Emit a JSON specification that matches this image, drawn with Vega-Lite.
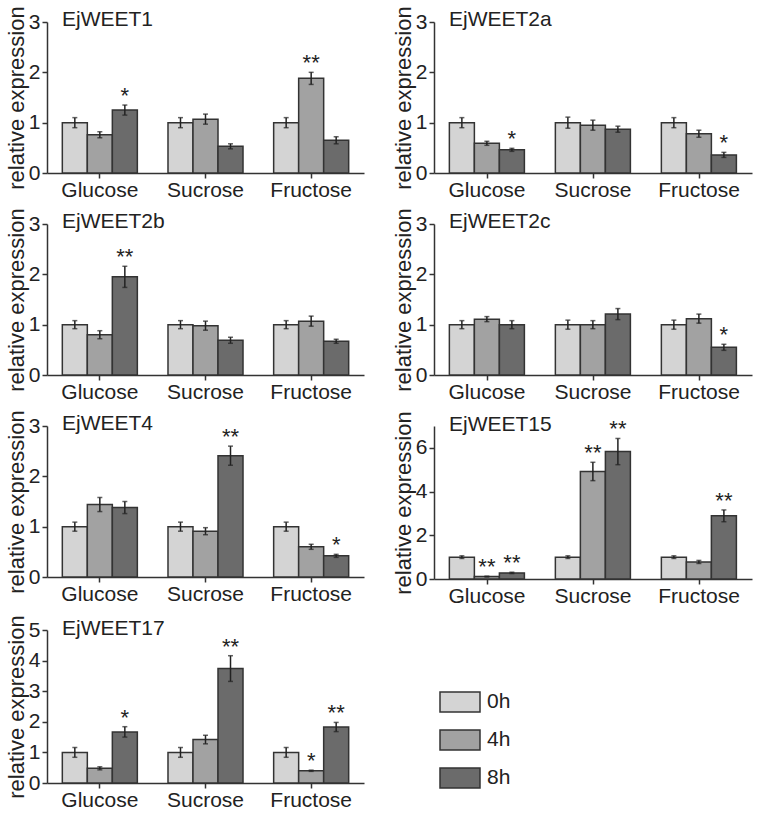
{
  "$schema": "https://vega.github.io/schema/vega-lite/v6.json",
  "background": "#ffffff",
  "padding": {"left": 5, "top": 5, "right": 5, "bottom": 5},
  "data": {
    "values": [
      {"gene": "EjWEET1", "sugar": "Glucose", "time": "0h", "value": 1.0, "lo": 0.9, "hi": 1.1, "sig": ""},
      {"gene": "EjWEET1", "sugar": "Glucose", "time": "4h", "value": 0.76, "lo": 0.7, "hi": 0.82, "sig": ""},
      {"gene": "EjWEET1", "sugar": "Glucose", "time": "8h", "value": 1.25, "lo": 1.15, "hi": 1.35, "sig": "*"},
      {"gene": "EjWEET1", "sugar": "Sucrose", "time": "0h", "value": 1.0, "lo": 0.9, "hi": 1.1, "sig": ""},
      {"gene": "EjWEET1", "sugar": "Sucrose", "time": "4h", "value": 1.07, "lo": 0.97, "hi": 1.17, "sig": ""},
      {"gene": "EjWEET1", "sugar": "Sucrose", "time": "8h", "value": 0.53, "lo": 0.48, "hi": 0.58, "sig": ""},
      {"gene": "EjWEET1", "sugar": "Fructose", "time": "0h", "value": 1.0, "lo": 0.9, "hi": 1.1, "sig": ""},
      {"gene": "EjWEET1", "sugar": "Fructose", "time": "4h", "value": 1.88, "lo": 1.76, "hi": 2.0, "sig": "**"},
      {"gene": "EjWEET1", "sugar": "Fructose", "time": "8h", "value": 0.65, "lo": 0.58, "hi": 0.72, "sig": ""},

      {"gene": "EjWEET2a", "sugar": "Glucose", "time": "0h", "value": 1.0, "lo": 0.9, "hi": 1.1, "sig": ""},
      {"gene": "EjWEET2a", "sugar": "Glucose", "time": "4h", "value": 0.59, "lo": 0.55, "hi": 0.63, "sig": ""},
      {"gene": "EjWEET2a", "sugar": "Glucose", "time": "8h", "value": 0.46, "lo": 0.43, "hi": 0.49, "sig": "*"},
      {"gene": "EjWEET2a", "sugar": "Sucrose", "time": "0h", "value": 1.0, "lo": 0.89, "hi": 1.11, "sig": ""},
      {"gene": "EjWEET2a", "sugar": "Sucrose", "time": "4h", "value": 0.95, "lo": 0.85, "hi": 1.05, "sig": ""},
      {"gene": "EjWEET2a", "sugar": "Sucrose", "time": "8h", "value": 0.87, "lo": 0.81, "hi": 0.93, "sig": ""},
      {"gene": "EjWEET2a", "sugar": "Fructose", "time": "0h", "value": 1.0, "lo": 0.9, "hi": 1.1, "sig": ""},
      {"gene": "EjWEET2a", "sugar": "Fructose", "time": "4h", "value": 0.78, "lo": 0.71, "hi": 0.85, "sig": ""},
      {"gene": "EjWEET2a", "sugar": "Fructose", "time": "8h", "value": 0.36, "lo": 0.31, "hi": 0.41, "sig": "*"},

      {"gene": "EjWEET2b", "sugar": "Glucose", "time": "0h", "value": 1.0, "lo": 0.92, "hi": 1.08, "sig": ""},
      {"gene": "EjWEET2b", "sugar": "Glucose", "time": "4h", "value": 0.8, "lo": 0.72, "hi": 0.88, "sig": ""},
      {"gene": "EjWEET2b", "sugar": "Glucose", "time": "8h", "value": 1.95, "lo": 1.74, "hi": 2.16, "sig": "**"},
      {"gene": "EjWEET2b", "sugar": "Sucrose", "time": "0h", "value": 1.0, "lo": 0.92, "hi": 1.08, "sig": ""},
      {"gene": "EjWEET2b", "sugar": "Sucrose", "time": "4h", "value": 0.98, "lo": 0.89, "hi": 1.07, "sig": ""},
      {"gene": "EjWEET2b", "sugar": "Sucrose", "time": "8h", "value": 0.69, "lo": 0.63, "hi": 0.75, "sig": ""},
      {"gene": "EjWEET2b", "sugar": "Fructose", "time": "0h", "value": 1.0, "lo": 0.92, "hi": 1.08, "sig": ""},
      {"gene": "EjWEET2b", "sugar": "Fructose", "time": "4h", "value": 1.07, "lo": 0.97, "hi": 1.17, "sig": ""},
      {"gene": "EjWEET2b", "sugar": "Fructose", "time": "8h", "value": 0.67, "lo": 0.63, "hi": 0.71, "sig": ""},

      {"gene": "EjWEET2c", "sugar": "Glucose", "time": "0h", "value": 1.0, "lo": 0.92, "hi": 1.08, "sig": ""},
      {"gene": "EjWEET2c", "sugar": "Glucose", "time": "4h", "value": 1.11, "lo": 1.06, "hi": 1.16, "sig": ""},
      {"gene": "EjWEET2c", "sugar": "Glucose", "time": "8h", "value": 1.0, "lo": 0.92, "hi": 1.08, "sig": ""},
      {"gene": "EjWEET2c", "sugar": "Sucrose", "time": "0h", "value": 1.0, "lo": 0.91, "hi": 1.09, "sig": ""},
      {"gene": "EjWEET2c", "sugar": "Sucrose", "time": "4h", "value": 1.0, "lo": 0.92, "hi": 1.08, "sig": ""},
      {"gene": "EjWEET2c", "sugar": "Sucrose", "time": "8h", "value": 1.21, "lo": 1.1, "hi": 1.32, "sig": ""},
      {"gene": "EjWEET2c", "sugar": "Fructose", "time": "0h", "value": 1.0, "lo": 0.91, "hi": 1.09, "sig": ""},
      {"gene": "EjWEET2c", "sugar": "Fructose", "time": "4h", "value": 1.12, "lo": 1.03, "hi": 1.21, "sig": ""},
      {"gene": "EjWEET2c", "sugar": "Fructose", "time": "8h", "value": 0.55, "lo": 0.49, "hi": 0.61, "sig": "*"},

      {"gene": "EjWEET4", "sugar": "Glucose", "time": "0h", "value": 1.0, "lo": 0.91, "hi": 1.09, "sig": ""},
      {"gene": "EjWEET4", "sugar": "Glucose", "time": "4h", "value": 1.44, "lo": 1.3, "hi": 1.58, "sig": ""},
      {"gene": "EjWEET4", "sugar": "Glucose", "time": "8h", "value": 1.38, "lo": 1.26, "hi": 1.5, "sig": ""},
      {"gene": "EjWEET4", "sugar": "Sucrose", "time": "0h", "value": 1.0, "lo": 0.91, "hi": 1.09, "sig": ""},
      {"gene": "EjWEET4", "sugar": "Sucrose", "time": "4h", "value": 0.91, "lo": 0.84, "hi": 0.98, "sig": ""},
      {"gene": "EjWEET4", "sugar": "Sucrose", "time": "8h", "value": 2.41, "lo": 2.22, "hi": 2.6, "sig": "**"},
      {"gene": "EjWEET4", "sugar": "Fructose", "time": "0h", "value": 1.0, "lo": 0.91, "hi": 1.09, "sig": ""},
      {"gene": "EjWEET4", "sugar": "Fructose", "time": "4h", "value": 0.6, "lo": 0.55, "hi": 0.65, "sig": ""},
      {"gene": "EjWEET4", "sugar": "Fructose", "time": "8h", "value": 0.42, "lo": 0.39, "hi": 0.45, "sig": "*"},

      {"gene": "EjWEET15", "sugar": "Glucose", "time": "0h", "value": 1.0, "lo": 0.94, "hi": 1.06, "sig": ""},
      {"gene": "EjWEET15", "sugar": "Glucose", "time": "4h", "value": 0.11, "lo": 0.09, "hi": 0.13, "sig": "**"},
      {"gene": "EjWEET15", "sugar": "Glucose", "time": "8h", "value": 0.28, "lo": 0.25, "hi": 0.31, "sig": "**"},
      {"gene": "EjWEET15", "sugar": "Sucrose", "time": "0h", "value": 1.0, "lo": 0.94, "hi": 1.06, "sig": ""},
      {"gene": "EjWEET15", "sugar": "Sucrose", "time": "4h", "value": 4.92, "lo": 4.5, "hi": 5.34, "sig": "**"},
      {"gene": "EjWEET15", "sugar": "Sucrose", "time": "8h", "value": 5.83, "lo": 5.23, "hi": 6.43, "sig": "**"},
      {"gene": "EjWEET15", "sugar": "Fructose", "time": "0h", "value": 1.0, "lo": 0.94, "hi": 1.06, "sig": ""},
      {"gene": "EjWEET15", "sugar": "Fructose", "time": "4h", "value": 0.78, "lo": 0.71, "hi": 0.85, "sig": ""},
      {"gene": "EjWEET15", "sugar": "Fructose", "time": "8h", "value": 2.89, "lo": 2.62, "hi": 3.16, "sig": "**"},

      {"gene": "EjWEET17", "sugar": "Glucose", "time": "0h", "value": 1.0, "lo": 0.84, "hi": 1.16, "sig": ""},
      {"gene": "EjWEET17", "sugar": "Glucose", "time": "4h", "value": 0.48, "lo": 0.43, "hi": 0.53, "sig": ""},
      {"gene": "EjWEET17", "sugar": "Glucose", "time": "8h", "value": 1.67, "lo": 1.5, "hi": 1.84, "sig": "*"},
      {"gene": "EjWEET17", "sugar": "Sucrose", "time": "0h", "value": 1.0, "lo": 0.84, "hi": 1.16, "sig": ""},
      {"gene": "EjWEET17", "sugar": "Sucrose", "time": "4h", "value": 1.42, "lo": 1.28, "hi": 1.56, "sig": ""},
      {"gene": "EjWEET17", "sugar": "Sucrose", "time": "8h", "value": 3.74, "lo": 3.32, "hi": 4.16, "sig": "**"},
      {"gene": "EjWEET17", "sugar": "Fructose", "time": "0h", "value": 1.0, "lo": 0.84, "hi": 1.16, "sig": ""},
      {"gene": "EjWEET17", "sugar": "Fructose", "time": "4h", "value": 0.4, "lo": 0.38, "hi": 0.42, "sig": "*"},
      {"gene": "EjWEET17", "sugar": "Fructose", "time": "8h", "value": 1.83, "lo": 1.68, "hi": 1.98, "sig": "**"}
    ]
  },
  "columns": 2,
  "spacing": {"row": 51, "column": 70},
  "bounds": "flush",
  "concat": [
    {
      "title": "EjWEET1",
      "width": 317, "height": 151,
      "transform": [{"filter": "datum.gene === 'EjWEET1'"}],
      "encoding": {
        "x": {"field": "sugar", "type": "nominal", "sort": ["Glucose", "Sucrose", "Fructose"], "title": null, "scale": {"paddingInner": 0.29, "paddingOuter": 0.145}},
        "xOffset": {"field": "time", "type": "nominal", "sort": ["0h", "4h", "8h"], "scale": {"paddingInner": 0, "paddingOuter": 0}}
      },
      "layer": [
        {"mark": {"type": "bar", "stroke": "#333333", "strokeWidth": 1.5}, "encoding": {"y": {"field": "value", "type": "quantitative", "scale": {"domain": [0, 3]}, "axis": {"values": [0, 1, 2, 3], "title": "relative expression"}}, "color": {"field": "time", "type": "nominal", "sort": ["0h", "4h", "8h"]}}},
        {"mark": {"type": "rule", "color": "#222222", "strokeWidth": 1.5}, "encoding": {"y": {"field": "lo", "type": "quantitative", "axis": {"values": [0, 1, 2, 3]}}, "y2": {"field": "hi"}}},
        {"mark": {"type": "tick", "color": "#222222", "size": 5, "thickness": 1.5}, "encoding": {"y": {"field": "lo", "type": "quantitative", "axis": {"values": [0, 1, 2, 3]}}}},
        {"mark": {"type": "tick", "color": "#222222", "size": 5, "thickness": 1.5}, "encoding": {"y": {"field": "hi", "type": "quantitative", "axis": {"values": [0, 1, 2, 3]}}}},
        {"mark": {"type": "text", "fontSize": 22, "baseline": "alphabetic", "dy": -2, "color": "#222222"}, "encoding": {"y": {"field": "hi", "type": "quantitative", "axis": {"values": [0, 1, 2, 3]}}, "text": {"field": "sig"}}}
      ]
    },
    {
      "title": "EjWEET2a",
      "width": 318, "height": 151,
      "transform": [{"filter": "datum.gene === 'EjWEET2a'"}],
      "encoding": {
        "x": {"field": "sugar", "type": "nominal", "sort": ["Glucose", "Sucrose", "Fructose"], "title": null, "scale": {"paddingInner": 0.29, "paddingOuter": 0.145}},
        "xOffset": {"field": "time", "type": "nominal", "sort": ["0h", "4h", "8h"], "scale": {"paddingInner": 0, "paddingOuter": 0}}
      },
      "layer": [
        {"mark": {"type": "bar", "stroke": "#333333", "strokeWidth": 1.5}, "encoding": {"y": {"field": "value", "type": "quantitative", "scale": {"domain": [0, 3]}, "axis": {"values": [0, 1, 2, 3], "title": "relative expression"}}, "color": {"field": "time", "type": "nominal", "sort": ["0h", "4h", "8h"]}}},
        {"mark": {"type": "rule", "color": "#222222", "strokeWidth": 1.5}, "encoding": {"y": {"field": "lo", "type": "quantitative", "axis": {"values": [0, 1, 2, 3]}}, "y2": {"field": "hi"}}},
        {"mark": {"type": "tick", "color": "#222222", "size": 5, "thickness": 1.5}, "encoding": {"y": {"field": "lo", "type": "quantitative", "axis": {"values": [0, 1, 2, 3]}}}},
        {"mark": {"type": "tick", "color": "#222222", "size": 5, "thickness": 1.5}, "encoding": {"y": {"field": "hi", "type": "quantitative", "axis": {"values": [0, 1, 2, 3]}}}},
        {"mark": {"type": "text", "fontSize": 22, "baseline": "alphabetic", "dy": -2, "color": "#222222"}, "encoding": {"y": {"field": "hi", "type": "quantitative", "axis": {"values": [0, 1, 2, 3]}}, "text": {"field": "sig"}}}
      ]
    },
    {
      "title": "EjWEET2b",
      "width": 317, "height": 151,
      "transform": [{"filter": "datum.gene === 'EjWEET2b'"}],
      "encoding": {
        "x": {"field": "sugar", "type": "nominal", "sort": ["Glucose", "Sucrose", "Fructose"], "title": null, "scale": {"paddingInner": 0.29, "paddingOuter": 0.145}},
        "xOffset": {"field": "time", "type": "nominal", "sort": ["0h", "4h", "8h"], "scale": {"paddingInner": 0, "paddingOuter": 0}}
      },
      "layer": [
        {"mark": {"type": "bar", "stroke": "#333333", "strokeWidth": 1.5}, "encoding": {"y": {"field": "value", "type": "quantitative", "scale": {"domain": [0, 3]}, "axis": {"values": [0, 1, 2, 3], "title": "relative expression"}}, "color": {"field": "time", "type": "nominal", "sort": ["0h", "4h", "8h"]}}},
        {"mark": {"type": "rule", "color": "#222222", "strokeWidth": 1.5}, "encoding": {"y": {"field": "lo", "type": "quantitative", "axis": {"values": [0, 1, 2, 3]}}, "y2": {"field": "hi"}}},
        {"mark": {"type": "tick", "color": "#222222", "size": 5, "thickness": 1.5}, "encoding": {"y": {"field": "lo", "type": "quantitative", "axis": {"values": [0, 1, 2, 3]}}}},
        {"mark": {"type": "tick", "color": "#222222", "size": 5, "thickness": 1.5}, "encoding": {"y": {"field": "hi", "type": "quantitative", "axis": {"values": [0, 1, 2, 3]}}}},
        {"mark": {"type": "text", "fontSize": 22, "baseline": "alphabetic", "dy": -2, "color": "#222222"}, "encoding": {"y": {"field": "hi", "type": "quantitative", "axis": {"values": [0, 1, 2, 3]}}, "text": {"field": "sig"}}}
      ]
    },
    {
      "title": "EjWEET2c",
      "width": 318, "height": 151,
      "transform": [{"filter": "datum.gene === 'EjWEET2c'"}],
      "encoding": {
        "x": {"field": "sugar", "type": "nominal", "sort": ["Glucose", "Sucrose", "Fructose"], "title": null, "scale": {"paddingInner": 0.29, "paddingOuter": 0.145}},
        "xOffset": {"field": "time", "type": "nominal", "sort": ["0h", "4h", "8h"], "scale": {"paddingInner": 0, "paddingOuter": 0}}
      },
      "layer": [
        {"mark": {"type": "bar", "stroke": "#333333", "strokeWidth": 1.5}, "encoding": {"y": {"field": "value", "type": "quantitative", "scale": {"domain": [0, 3]}, "axis": {"values": [0, 1, 2, 3], "title": "relative expression"}}, "color": {"field": "time", "type": "nominal", "sort": ["0h", "4h", "8h"]}}},
        {"mark": {"type": "rule", "color": "#222222", "strokeWidth": 1.5}, "encoding": {"y": {"field": "lo", "type": "quantitative", "axis": {"values": [0, 1, 2, 3]}}, "y2": {"field": "hi"}}},
        {"mark": {"type": "tick", "color": "#222222", "size": 5, "thickness": 1.5}, "encoding": {"y": {"field": "lo", "type": "quantitative", "axis": {"values": [0, 1, 2, 3]}}}},
        {"mark": {"type": "tick", "color": "#222222", "size": 5, "thickness": 1.5}, "encoding": {"y": {"field": "hi", "type": "quantitative", "axis": {"values": [0, 1, 2, 3]}}}},
        {"mark": {"type": "text", "fontSize": 22, "baseline": "alphabetic", "dy": -2, "color": "#222222"}, "encoding": {"y": {"field": "hi", "type": "quantitative", "axis": {"values": [0, 1, 2, 3]}}, "text": {"field": "sig"}}}
      ]
    },
    {
      "title": "EjWEET4",
      "width": 317, "height": 151,
      "transform": [{"filter": "datum.gene === 'EjWEET4'"}],
      "encoding": {
        "x": {"field": "sugar", "type": "nominal", "sort": ["Glucose", "Sucrose", "Fructose"], "title": null, "scale": {"paddingInner": 0.29, "paddingOuter": 0.145}},
        "xOffset": {"field": "time", "type": "nominal", "sort": ["0h", "4h", "8h"], "scale": {"paddingInner": 0, "paddingOuter": 0}}
      },
      "layer": [
        {"mark": {"type": "bar", "stroke": "#333333", "strokeWidth": 1.5}, "encoding": {"y": {"field": "value", "type": "quantitative", "scale": {"domain": [0, 3]}, "axis": {"values": [0, 1, 2, 3], "title": "relative expression"}}, "color": {"field": "time", "type": "nominal", "sort": ["0h", "4h", "8h"]}}},
        {"mark": {"type": "rule", "color": "#222222", "strokeWidth": 1.5}, "encoding": {"y": {"field": "lo", "type": "quantitative", "axis": {"values": [0, 1, 2, 3]}}, "y2": {"field": "hi"}}},
        {"mark": {"type": "tick", "color": "#222222", "size": 5, "thickness": 1.5}, "encoding": {"y": {"field": "lo", "type": "quantitative", "axis": {"values": [0, 1, 2, 3]}}}},
        {"mark": {"type": "tick", "color": "#222222", "size": 5, "thickness": 1.5}, "encoding": {"y": {"field": "hi", "type": "quantitative", "axis": {"values": [0, 1, 2, 3]}}}},
        {"mark": {"type": "text", "fontSize": 22, "baseline": "alphabetic", "dy": -2, "color": "#222222"}, "encoding": {"y": {"field": "hi", "type": "quantitative", "axis": {"values": [0, 1, 2, 3]}}, "text": {"field": "sig"}}}
      ]
    },
    {
      "title": "EjWEET15",
      "width": 318, "height": 153,
      "transform": [{"filter": "datum.gene === 'EjWEET15'"}],
      "encoding": {
        "x": {"field": "sugar", "type": "nominal", "sort": ["Glucose", "Sucrose", "Fructose"], "title": null, "scale": {"paddingInner": 0.29, "paddingOuter": 0.145}},
        "xOffset": {"field": "time", "type": "nominal", "sort": ["0h", "4h", "8h"], "scale": {"paddingInner": 0, "paddingOuter": 0}}
      },
      "layer": [
        {"mark": {"type": "bar", "stroke": "#333333", "strokeWidth": 1.5}, "encoding": {"y": {"field": "value", "type": "quantitative", "scale": {"domain": [0, 7]}, "axis": {"values": [0, 2, 4, 6], "title": "relative expression"}}, "color": {"field": "time", "type": "nominal", "sort": ["0h", "4h", "8h"]}}},
        {"mark": {"type": "rule", "color": "#222222", "strokeWidth": 1.5}, "encoding": {"y": {"field": "lo", "type": "quantitative", "axis": {"values": [0, 2, 4, 6]}}, "y2": {"field": "hi"}}},
        {"mark": {"type": "tick", "color": "#222222", "size": 5, "thickness": 1.5}, "encoding": {"y": {"field": "lo", "type": "quantitative", "axis": {"values": [0, 2, 4, 6]}}}},
        {"mark": {"type": "tick", "color": "#222222", "size": 5, "thickness": 1.5}, "encoding": {"y": {"field": "hi", "type": "quantitative", "axis": {"values": [0, 2, 4, 6]}}}},
        {"mark": {"type": "text", "fontSize": 22, "baseline": "alphabetic", "dy": -2, "color": "#222222"}, "encoding": {"y": {"field": "hi", "type": "quantitative", "axis": {"values": [0, 2, 4, 6]}}, "text": {"field": "sig"}}}
      ]
    },
    {
      "title": "EjWEET17",
      "width": 317, "height": 153,
      "transform": [{"filter": "datum.gene === 'EjWEET17'"}],
      "encoding": {
        "x": {"field": "sugar", "type": "nominal", "sort": ["Glucose", "Sucrose", "Fructose"], "title": null, "scale": {"paddingInner": 0.29, "paddingOuter": 0.145}},
        "xOffset": {"field": "time", "type": "nominal", "sort": ["0h", "4h", "8h"], "scale": {"paddingInner": 0, "paddingOuter": 0}}
      },
      "layer": [
        {"mark": {"type": "bar", "stroke": "#333333", "strokeWidth": 1.5}, "encoding": {"y": {"field": "value", "type": "quantitative", "scale": {"domain": [0, 5]}, "axis": {"values": [0, 1, 2, 3, 4, 5], "title": "relative expression"}}, "color": {"field": "time", "type": "nominal", "sort": ["0h", "4h", "8h"]}}},
        {"mark": {"type": "rule", "color": "#222222", "strokeWidth": 1.5}, "encoding": {"y": {"field": "lo", "type": "quantitative", "axis": {"values": [0, 1, 2, 3, 4, 5]}}, "y2": {"field": "hi"}}},
        {"mark": {"type": "tick", "color": "#222222", "size": 5, "thickness": 1.5}, "encoding": {"y": {"field": "lo", "type": "quantitative", "axis": {"values": [0, 1, 2, 3, 4, 5]}}}},
        {"mark": {"type": "tick", "color": "#222222", "size": 5, "thickness": 1.5}, "encoding": {"y": {"field": "hi", "type": "quantitative", "axis": {"values": [0, 1, 2, 3, 4, 5]}}}},
        {"mark": {"type": "text", "fontSize": 22, "baseline": "alphabetic", "dy": -2, "color": "#222222"}, "encoding": {"y": {"field": "hi", "type": "quantitative", "axis": {"values": [0, 1, 2, 3, 4, 5]}}, "text": {"field": "sig"}}}
      ]
    }
  ],
  "resolve": {"scale": {"color": "shared"}, "legend": {"color": "shared"}},
  "config": {
    "font": "Liberation Sans",
    "view": {"stroke": null},
    "range": {"category": ["#d4d4d4", "#a2a2a2", "#6b6b6b"]},
    "title": {"fontSize": 21, "fontWeight": "normal", "color": "#222222", "anchor": "start", "frame": "group", "offset": -24, "dx": 15, "baseline": "alphabetic"},
    "axis": {"grid": false, "domainColor": "#333333", "domainWidth": 1.5, "tickColor": "#333333", "tickWidth": 1.5, "tickSize": 5, "labelColor": "#222222", "titleColor": "#222222", "titleFontWeight": "normal"},
    "axisY": {"labelFontSize": 21, "labelPadding": 2, "labelOverlap": false, "titleFontSize": 22, "titlePadding": 0},
    "axisX": {"labelFontSize": 21, "labelAngle": 0, "labelPadding": 1},
    "legend": {"orient": "none", "legendX": 402, "legendY": 669, "title": null, "labelFontSize": 21, "labelColor": "#222222", "symbolType": "M-2,-1H2V1H-2Z", "symbolSize": 400, "symbolStrokeColor": "#333333", "symbolStrokeWidth": 1.5, "symbolOpacity": 1, "rowPadding": 12, "labelOffset": 16}
  }
}
